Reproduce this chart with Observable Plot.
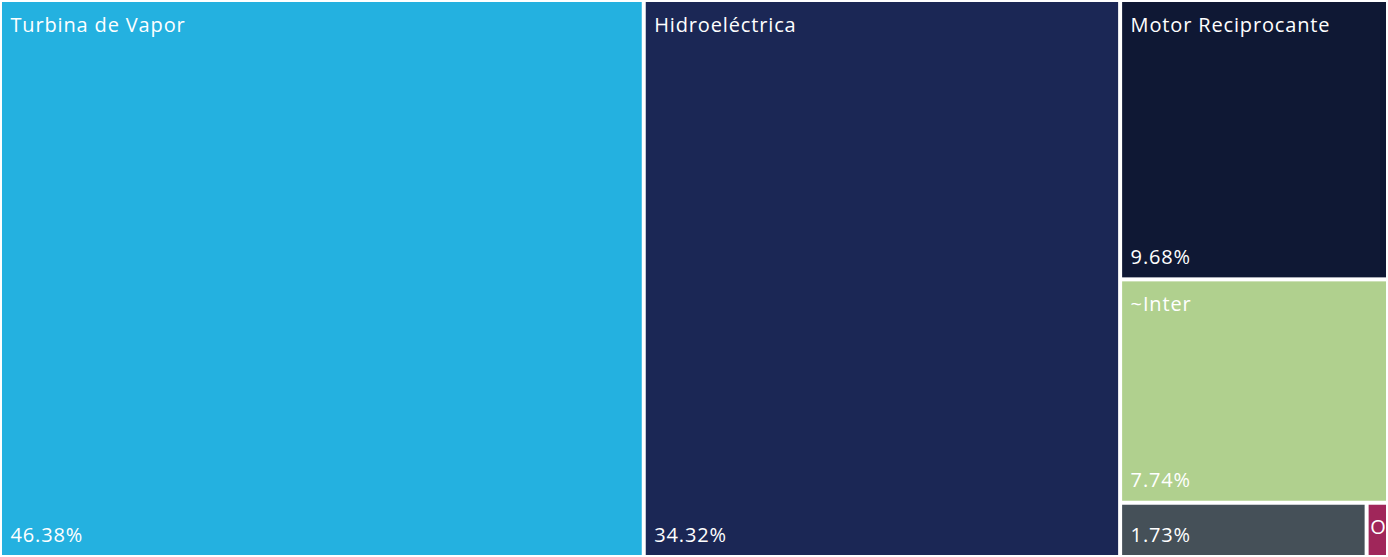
<!DOCTYPE html>
<html>
<head>
<meta charset="utf-8">
<script src="https://cdn.jsdelivr.net/npm/d3@7"></script>
<script src="https://cdn.jsdelivr.net/npm/@observablehq/plot@0.6"></script>
<style>
  html, body { margin: 0; padding: 0; background: #ffffff; }
  svg { display: block; }
  svg text { letter-spacing: 0.85px; }
</style>
</head>
<body>
<div id="chart"></div>
<script>
const categories = ["Turbina de Vapor", "Hidroeléctrica", "Motor Reciprocante", "~Inter", "", "O"];
const shares = [46.38, 34.32, 9.68, 7.74, 1.73, 0.15];
const shareLabels = ["46.38%", "34.32%", "9.68%", "7.74%", "1.73%", ""];
const colors = ["#24b1e0", "#1b2755", "#0f1834", "#b0d08e", "#455058", "#a0265a"];

const W = 1388, H = 557;
const rows = categories.map((c, i) => ({name: c, value: shares[i], pct: shareLabels[i], color: colors[i], order: i}));
const root = d3.hierarchy({children: rows}).sum(d => d.value || 0);
d3.treemap().tile(d3.treemapSquarify).size([W, H]).round(false)(root);
const leaves = root.leaves().map(l => ({...l.data, x0: l.x0, x1: l.x1, y0: l.y0, y1: l.y1}));
const labelX = d => d.x0 + ((d.x1 - d.x0) < 40 ? 3 : 10);

const chart = Plot.plot({
  width: W,
  height: H,
  margin: 0,
  x: {domain: [0, W], range: [0, W], axis: null},
  y: {domain: [0, H], range: [0, H], axis: null},
  style: {fontFamily: "'Open Sans', 'Noto Sans', sans-serif", background: "#ffffff"},
  marks: [
    Plot.rect(leaves, {x1: "x0", x2: "x1", y1: "y0", y2: "y1", fill: "color", inset: 2}),
    Plot.text(leaves, {
      x: labelX, y: "y0", text: "name", dy: 17,
      textAnchor: "start", lineAnchor: "top", fill: "#ffffff", fontSize: 20
    }),
    Plot.text(leaves, {
      x: labelX, y: "y1", text: "pct", dy: -16,
      textAnchor: "start", lineAnchor: "bottom", fill: "#ffffff", fontSize: 20
    })
  ]
});
document.getElementById("chart").appendChild(chart);
</script>
</body>
</html>
